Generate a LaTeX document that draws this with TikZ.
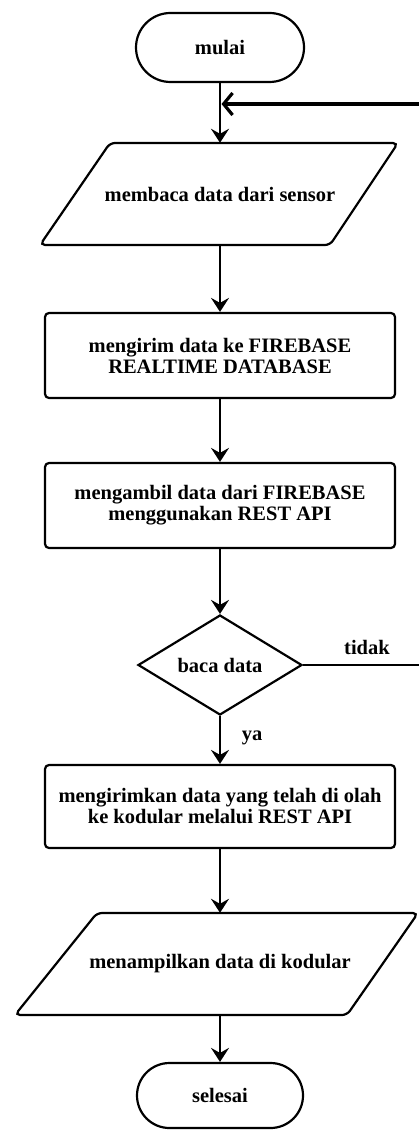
\documentclass[tikz,border=0pt]{standalone}
\usepackage{fontspec}
\setmainfont{Liberation Serif}
\usetikzlibrary{arrows.meta,shapes.geometric,shapes.misc}
\begin{document}
\begin{tikzpicture}[x=1pt,y=-1pt,
  every node/.style={font=\fontsize{20.5}{21}\selectfont\bfseries, align=center, inner sep=0pt},
  termbox/.style={draw, line width=2.2pt, rounded rectangle, minimum width=168pt, minimum height=69pt},
  procbox/.style={draw, line width=2.2pt, rounded corners=4pt, rectangle, minimum width=350pt},
  decbox/.style={draw, line width=2.2pt, diamond, aspect=1.64, minimum width=164pt, minimum height=100pt},
  ioshape/.style={line width=2.2pt, rounded corners=5pt},
  iotext/.style={minimum height=102pt},
  conn/.style={line width=2.2pt, -{Stealth[length=14pt,width=18pt,inset=5pt]}},
  link/.style={line width=2.2pt},
  backarr/.style={line width=3.2pt, -{Straight Barb[length=9pt,width=22pt]}}
]
\useasboundingbox (0,0) rectangle (419,1131);

% start
\node[termbox] (m) at (220,47.5) {mulai};

% input 1
\draw[ioshape] (110,143) -- (398,143) -- (330,245) -- (40,245) -- cycle;
\node[iotext] (p1) at (220,194) {membaca data dari sensor};

% processes
\node[procbox, minimum height=85pt] (b1) at (220,355.5) {mengirim data ke FIREBASE\\REALTIME DATABASE};
\node[procbox, minimum height=85pt] (b2) at (220,505.5) {mengambil data dari FIREBASE\\menggunakan REST API};

% decision
\node[decbox] (d) at (220,665) {baca data};

\node[procbox, minimum height=83pt] (b3) at (220,806.5) {mengirimkan data yang telah di olah\\ke kodular melalui REST API};

% output
\draw[ioshape] (97,913) -- (418,913) -- (347,1015) -- (15,1015) -- cycle;
\node[iotext] (p2) at (220,964) {menampilkan data di kodular};

% end
\node[termbox, minimum width=166pt, minimum height=65pt] (s) at (220,1095.5) {selesai};

% labels
\node (ya) at (252,738) {ya};
\node (td) at (367,647) {tidak};

% connectors
\coordinate (j) at (221.5,104);
\coordinate (r1) at (419,665);
\coordinate (r2) at (419,104);

\draw[conn] (m.south) -- (p1.north);
\draw[conn] (p1.south) -- (b1.north);
\draw[conn] (b1.south) -- (b2.north);
\draw[conn] (b2.south) -- (d.north);
\draw[conn] (d.south) -- (b3.north);
\draw[conn] (b3.south) -- (p2.north);
\draw[conn] (p2.south) -- (s.north);

\draw[link] (d.east) -- (r1);
\draw[backarr] (r2) -- (j);
\end{tikzpicture}
\end{document}
